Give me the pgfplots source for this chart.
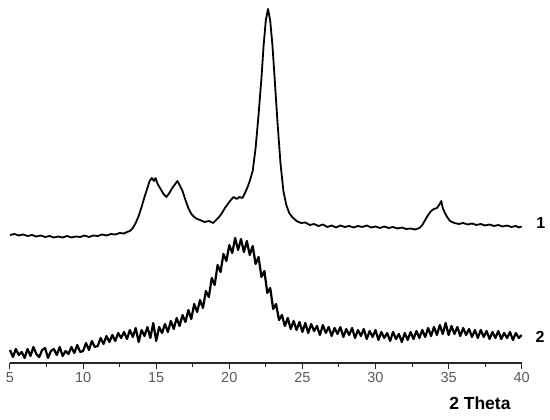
\documentclass[border=0pt]{standalone}
\usepackage{fontspec}
\setmainfont{Liberation Sans}
\usepackage{pgfplots}
\pgfplotsset{compat=1.18}

\begin{document}
\begin{tikzpicture}
\useasboundingbox (-10pt,-57pt) rectangle (540pt,363pt);
\begin{axis}[
  at={(0pt,0pt)}, anchor=south west,
  scale only axis,
  width=511.7pt, height=360pt,
  xmin=5, xmax=40, ymin=0, ymax=360,
  axis x line=bottom, axis y line=none,
  axis line style={-, line width=1.3pt, black!85},
  xtick={5,10,...,40}, minor x tick num=1,
  tick align=outside,
  major tick length=6pt, minor tick length=4pt,
  every tick/.style={line width=1pt, black!85},
  ytick=\empty,
  clip=false,
  /pgf/number format/assume math mode=true,
  xticklabel style={font=\fontsize{14.5}{14.5}\selectfont, text=black!65},
]
% sample 1
\addplot[line width=1.8pt, black, line join=round] coordinates {
(5,128)(5.3,129)(5.6,127.5)(5.9,128.5)(6.2,127)(6.5,128)(6.8,126.5)(7.1,127.5)
(7.4,126)(7.7,127)(8.0,125.5)(8.3,126.5)(8.6,125.5)(8.9,127)(9.2,125.5)(9.5,126.5)
(9.8,126)(10.1,127.5)(10.4,126)(10.7,127.5)(11.0,127)(11.3,128.5)(11.6,127.5)(11.9,129)
(12.2,128.5)(12.5,130)(12.8,129.5)(13.0,131)(13.2,132)(13.4,135)(13.6,140)(13.8,147)
(14.0,156)(14.2,166)(14.4,175)(14.55,182)(14.7,185)(14.85,182)(14.95,185)(15.1,179)
(15.3,174)(15.5,169)(15.7,166)(15.9,170)(16.1,175)(16.3,179)(16.45,182)(16.6,178)
(16.8,172)(17.0,163)(17.2,155)(17.4,149)(17.6,146)(17.8,144)(18.0,143)(18.3,141)
(18.6,142)(18.9,140)(19.1,143)(19.3,146)(19.5,150)(19.7,155)(19.9,159)(20.1,163)
(20.3,166)(20.5,164)(20.7,166)(20.9,165)(21.0,168)(21.2,174)(21.4,182)(21.6,192)
(21.8,215)(22.0,248)(22.2,285)(22.35,318)(22.5,343)(22.65,354)(22.8,342)(22.95,318)
(23.1,285)(23.3,240)(23.5,200)(23.7,172)(23.9,158)(24.1,150)(24.3,146)(24.6,142)
(24.9,140)(25.2,140.5)(25.5,138)(25.8,139)(26.1,137)(26.4,138.5)(26.7,136)(27.0,137.5)
(27.3,135.5)(27.6,137.5)(27.9,136)(28.2,137)(28.5,135.5)(28.8,137)(29.1,136)(29.4,137.5)
(29.7,135.5)(30.0,136.5)(30.3,135)(30.6,136.5)(30.9,135)(31.2,136)(31.5,134.5)(31.8,135.5)
(32.1,134)(32.4,134.5)(32.7,133.5)(33.0,135)(33.2,138)(33.4,143)(33.6,148)(33.8,152)
(34.0,154)(34.2,155)(34.35,158)(34.5,162)(34.6,155)(34.75,150)(34.9,146)(35.1,142)
(35.4,140)(35.7,139)(36.0,140)(36.3,138.5)(36.6,139.5)(36.9,138)(37.2,139)(37.5,137.5)
(37.8,138.5)(38.1,137)(38.4,138)(38.7,136.5)(39.0,137.5)(39.3,136)(39.6,137)(39.8,135.5)
(40.0,136.5)
};
% sample 2
\addplot[line width=2.2pt, black, line join=round] coordinates {
(5.0,13)(5.2,6)(5.4,14)(5.6,8)(5.8,11)(6.0,5)(6.2,14)(6.4,7)(6.6,16)(6.8,9)
(7.0,6)(7.2,13)(7.4,15)(7.6,5)(7.8,12)(8.0,14)(8.2,8)(8.4,16)(8.6,7)(8.8,12)
(9.0,9)(9.2,16)(9.4,10)(9.6,18)(9.8,11)(10.0,12)(10.2,20)(10.4,13)(10.6,22)(10.8,16)
(11.0,17)(11.2,25)(11.4,19)(11.6,27)(11.8,21)(12.0,28)(12.2,22)(12.4,30)(12.6,25)(12.8,31)
(13.0,24)(13.2,33)(13.4,26)(13.6,35)(13.8,21)(14.0,33)(14.2,27)(14.4,36)(14.6,25)(14.8,40)
(15.0,22)(15.2,36)(15.4,30)(15.6,39)(15.8,31)(16.0,42)(16.2,34)(16.4,45)(16.6,37)(16.8,48)
(17.0,41)(17.2,53)(17.4,44)(17.6,59)(17.8,51)(18.0,63)(18.2,55)(18.4,72)(18.6,66)(18.8,85)
(19.0,78)(19.2,98)(19.4,91)(19.6,109)(19.8,102)(20.0,118)(20.2,110)(20.4,125)(20.6,113)(20.8,124)
(21.0,111)(21.2,122)(21.4,108)(21.6,117)(21.8,99)(22.0,106)(22.2,86)(22.4,92)(22.6,70)(22.8,75)
(23.0,54)(23.2,59)(23.4,43)(23.6,48)(23.8,37)(24.0,45)(24.2,34)(24.4,42)(24.6,33)(24.8,41)
(25.0,31)(25.2,40)(25.4,30)(25.6,39)(25.8,32)(26.0,37)(26.2,28)(26.4,38)(26.6,30)(26.8,36)
(27.0,27)(27.2,35)(27.4,29)(27.6,36)(27.8,26)(28.0,34)(28.2,28)(28.4,35)(28.6,25)(28.8,33)
(29.0,27)(29.2,34)(29.4,24)(29.6,32)(29.8,26)(30.0,33)(30.2,23)(30.4,31)(30.6,25)(30.8,30)
(31.0,22)(31.2,31)(31.4,24)(31.6,29)(31.8,21)(32.0,30)(32.2,23)(32.4,31)(32.6,24)(32.8,32)
(33.0,25)(33.2,33)(33.4,26)(33.6,35)(33.8,27)(34.0,36)(34.2,28)(34.4,38)(34.6,29)(34.8,40)
(35.0,28)(35.2,37)(35.4,29)(35.6,36)(35.8,27)(36.0,35)(36.2,28)(36.4,34)(36.6,26)(36.8,33)
(37.0,25)(37.2,33)(37.4,26)(37.6,32)(37.8,24)(38.0,31)(38.2,25)(38.4,32)(38.6,24)(38.8,30)
(39.0,25)(39.2,31)(39.4,23)(39.6,30)(39.8,25)(40.0,28)
};
\node[font=\fontsize{16}{16}\selectfont\bfseries] at (axis cs:41.3,140) {1};
\node[font=\fontsize{16}{16}\selectfont\bfseries] at (axis cs:41.25,26) {2};
\node[font=\fontsize{17.5}{17.5}\selectfont\bfseries, anchor=base east, inner sep=0pt] at (axis cs:39.25,-47) {2 Theta};
\end{axis}
\end{tikzpicture}
\end{document}
